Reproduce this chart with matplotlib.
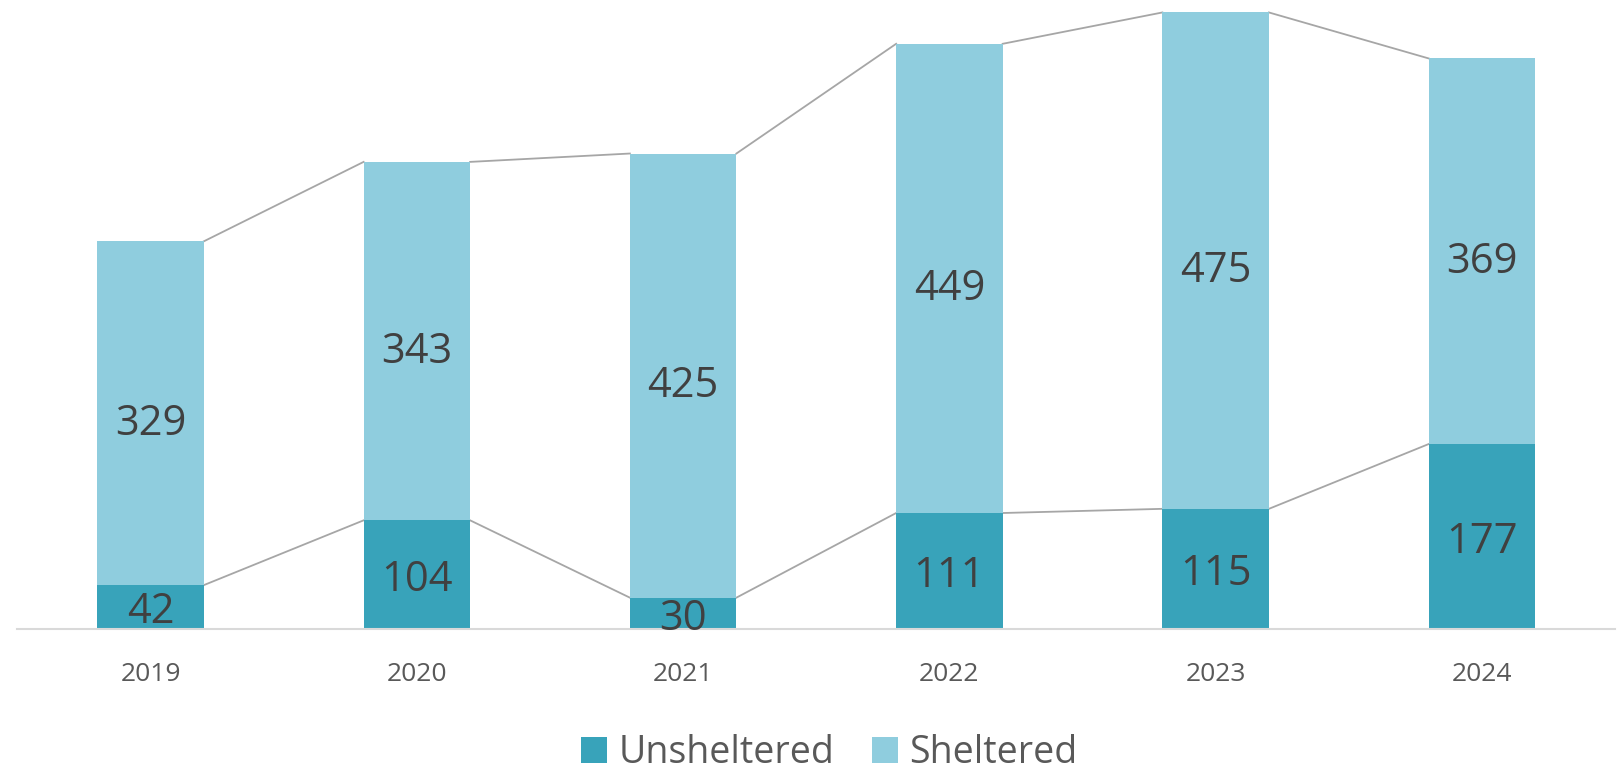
import numpy as np
import matplotlib
matplotlib.use("Agg")
import matplotlib.pyplot as plt

plt.rcParams["font.family"] = ["Open Sans", "DejaVu Sans"]

years = ["2019", "2020", "2021", "2022", "2023", "2024"]
unsheltered = [42, 104, 30, 111, 115, 177]
sheltered = [329, 343, 425, 449, 475, 369]

dark = "#38A3BA"
light = "#8FCDDE"
line_col = "#A6A6A6"

fig = plt.figure(figsize=(16.17, 7.7), dpi=100)
ax = fig.add_axes([0.0108, 0.1831, 0.988, 0.8143])

x = np.arange(len(years))
w = 0.40
uns = np.array(unsheltered)
sh = np.array(sheltered)
tot = uns + sh

ax.bar(x, uns, width=w, color=dark, label="Unsheltered", zorder=2)
ax.bar(x, sh, width=w, bottom=uns, color=light, label="Sheltered", zorder=2)

# connector lines between bar tops
for i in range(len(x) - 1):
    for top in (uns, tot):
        ax.plot([x[i] + w / 2, x[i + 1] - w / 2], [top[i], top[i + 1]],
                color=line_col, lw=1.3, zorder=1)

for i in range(len(x)):
    ax.text(x[i], uns[i] / 2 - 5, str(uns[i]), ha="center", va="center",
            fontsize=30, color="#404040", zorder=3)
    ax.text(x[i], uns[i] + sh[i] / 2 - 10, str(sh[i]), ha="center", va="center",
            fontsize=30, color="#404040", zorder=3)

ax.set_xlim(-0.5, 5.5)
ax.set_ylim(0, 600)
ax.set_xticks(x)
ax.set_xticklabels(years, fontsize=19, color="#595959")
ax.tick_params(axis="x", length=0, pad=24)
ax.set_yticks([])
for s in ["top", "right", "left"]:
    ax.spines[s].set_visible(False)
ax.spines["bottom"].set_color("#D9D9D9")
ax.spines["bottom"].set_linewidth(1.5)

ax.legend(loc="center", bbox_to_anchor=(0.508, -0.198), ncol=2, frameon=False,
          fontsize=27, labelcolor="#595959", handlelength=0.7, handleheight=0.7,
          handletextpad=0.3, columnspacing=1.0)

fig.savefig("out.png", dpi=100)
